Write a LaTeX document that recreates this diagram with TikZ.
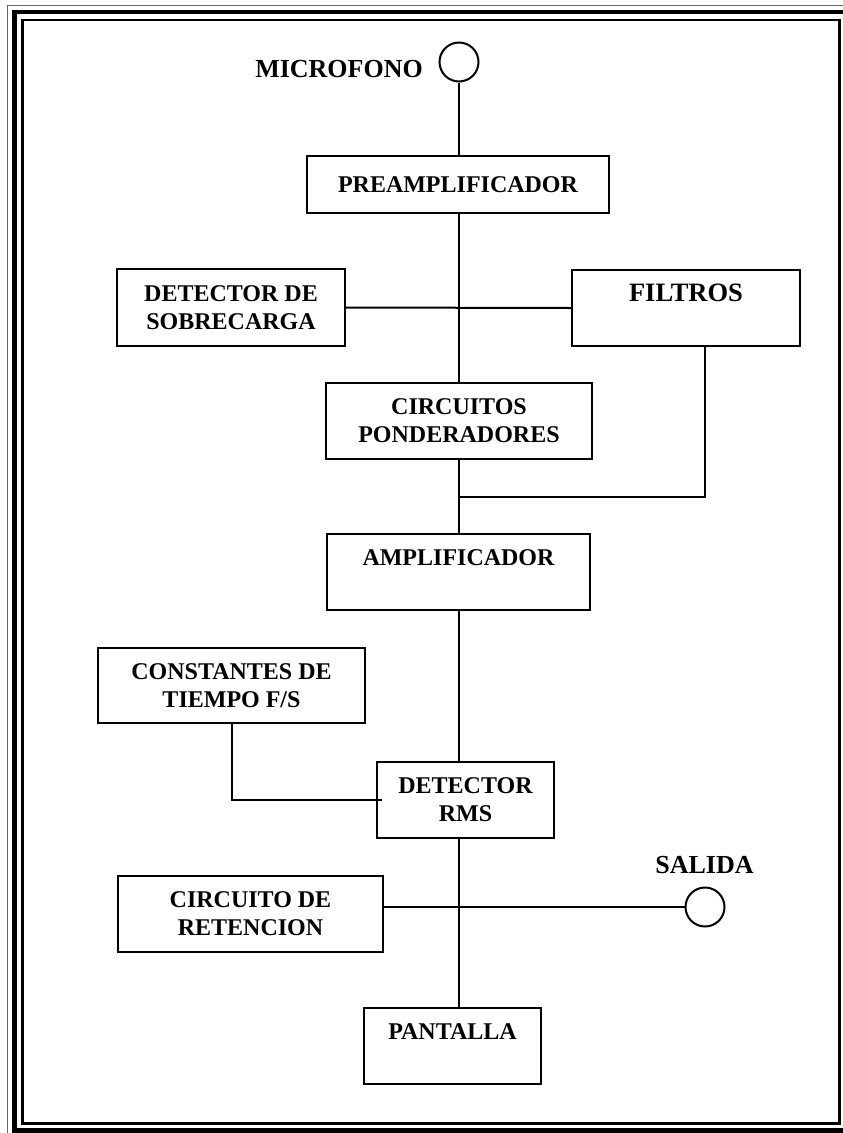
\documentclass[tikz,border=0pt]{standalone}
\usepackage{fontspec}
\setmainfont{Liberation Serif}
\begin{document}
\begin{tikzpicture}[x=1pt,y=-1pt,
  blk/.style={draw=black,line width=2pt,inner sep=0pt,align=center,
    font=\bfseries\fontsize{24}{28}\selectfont},
  port/.style={draw=black,line width=2pt,circle,inner sep=0pt,minimum size=39pt},
  lbl/.style={inner sep=0pt,font=\bfseries\fontsize{26}{30}\selectfont},
  wire/.style={line width=2pt}]
\useasboundingbox (0,0) rectangle (843,1133);
% frame
\draw[line width=0.8pt,black!60] (7.5,5.5) rectangle (854,1137);
\draw[line width=4.5pt] (14.25,12) rectangle (847.5,1130.5);
\draw[line width=2.5pt] (22.5,19.75) rectangle (839.5,1123.5);
% nodes
\node[port] (mic) at (459,62) {};
\node[lbl,anchor=base east] (micl) at (423,77) {MICROFONO};
\node[blk,minimum width=302pt,minimum height=57pt] (pre) at (458,184.5) {PREAMPLIFICADOR};
\node[blk,minimum width=228pt,minimum height=77pt] (dso) at (231,307.5) {DETECTOR DE\\SOBRECARGA};
\node[blk,minimum width=228pt,minimum height=76pt,font=\bfseries\fontsize{26.5}{30}\selectfont] (fil) at (686,308) {FILTROS\\\mbox{}};
\node[blk,minimum width=266pt,minimum height=76pt] (cir) at (459,421) {CIRCUITOS\\PONDERADORES};
\node[blk,minimum width=263pt,minimum height=76pt] (amp) at (458.5,572) {AMPLIFICADOR\\\mbox{}};
\node[blk,minimum width=267pt,minimum height=75pt] (con) at (231.5,685.5) {CONSTANTES DE\\TIEMPO F/S};
\node[blk,minimum width=177pt,minimum height=76pt] (rms) at (465.5,800) {DETECTOR\\RMS};
\node[blk,minimum width=265pt,minimum height=76pt] (ret) at (250.5,914) {CIRCUITO DE\\RETENCION};
\node[blk,minimum width=177pt,minimum height=76pt] (pan) at (452.5,1046) {PANTALLA\\\mbox{}};
\node[port] (sal) at (705,907) {};
\node[lbl,anchor=base] (sall) at (704.5,873) {SALIDA};
\coordinate (jn) at (459,497);
% connectors
\draw[wire] (mic.south) -- (mic.south |- pre.north);
\draw[wire] (mic |- pre.south) -- (mic |- cir.north);
\draw[wire] (dso.east) -- (fil.west);
\draw[wire] (mic |- cir.south) -- (mic |- amp.north);
\draw[wire] ([xshift=19pt]fil.south) |- (jn);
\draw[wire] (mic |- amp.south) -- (mic |- rms.north);
\draw[wire] (con.south) |- ([xshift=6pt]rms.west);
\draw[wire] (mic |- rms.south) -- (mic |- pan.north);
\draw[wire] (ret.east |- sal.west) -- (sal.west);
\end{tikzpicture}
\end{document}
